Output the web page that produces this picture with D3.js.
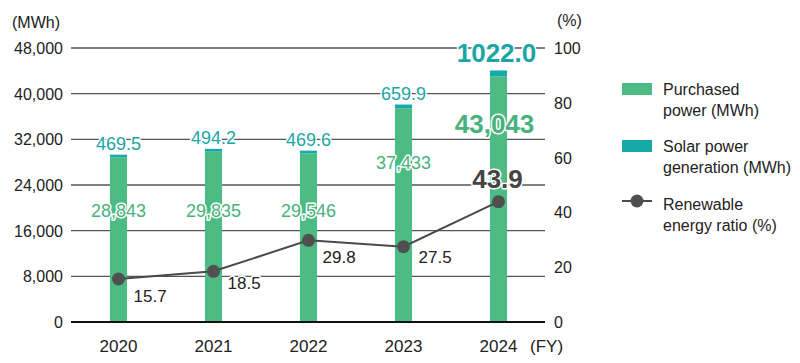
<!DOCTYPE html>
<html><head><meta charset="utf-8">
<script src="https://cdn.jsdelivr.net/npm/d3@7"></script>
<style>body{margin:0;background:#fff}svg{display:block;font-family:"Liberation Sans",Arial,Helvetica,sans-serif}</style>
</head><body><svg id="c" width="800" height="363"></svg>
<script>
const years = ["2020","2021","2022","2023","2024"];
const purchased = [28843, 29835, 29546, 37433, 43043];
const solar = [469.5, 494.2, 469.6, 659.9, 1022.0];
const ratio = [15.7, 18.5, 29.8, 27.5, 43.9];
const leftTicks = [0, 8000, 16000, 24000, 32000, 40000, 48000];
const rightTicks = [0, 20, 40, 60, 80, 100];
const legendItems = [["Purchased","power (MWh)"],["Solar power","generation (MWh)"],["Renewable","energy ratio (%)"]];

const GREEN = "#4dbb84", TEAL = "#17a9a8", GREEN_T = "#48b27c", TEAL_T = "#1ba5a5", DARK = "#4a4a4a";
const svg = d3.select("#c");
const x = d3.scaleBand().domain(years).range([71, 546]).paddingInner(0.82).paddingOuter(0.41);
const yL = d3.scaleLinear().domain([0, 48000]).range([322, 48]);
const yR = d3.scaleLinear().domain([0, 100]).range([322, 48]);
const cx = d => x(d) + x.bandwidth() / 2;

// gridlines
svg.append("g").selectAll("line").data(leftTicks.slice(1)).join("line")
  .attr("x1", 71).attr("x2", 545).attr("y1", d => yL(d)).attr("y2", d => yL(d))
  .attr("stroke", "#555").attr("stroke-width", 1.3);

// left axis labels
svg.append("g").selectAll("text").data(leftTicks).join("text")
  .attr("x", 63).attr("y", d => yL(d) + 6).attr("text-anchor", "end")
  .attr("font-size", 16).attr("fill", "#222").text(d => d3.format(",")(d));
svg.append("text").attr("x", 12).attr("y", 28).attr("font-size", 16).attr("fill", "#222").text("(MWh)");
// right axis labels
svg.append("g").selectAll("text").data(rightTicks).join("text")
  .attr("x", 554).attr("y", d => yR(d) + 6)
  .attr("font-size", 16).attr("fill", "#222").text(d => d);
svg.append("text").attr("x", 557).attr("y", 26).attr("font-size", 16).attr("fill", "#222").text("(%)");

// bars
svg.append("g").selectAll("rect").data(years).join("rect")
  .attr("x", d => x(d)).attr("width", x.bandwidth())
  .attr("y", (d, i) => yL(purchased[i])).attr("height", (d, i) => yL(0) - yL(purchased[i]))
  .attr("fill", GREEN);
svg.append("g").selectAll("rect").data(years).join("rect")
  .attr("x", d => x(d)).attr("width", x.bandwidth())
  .attr("y", (d, i) => yL(purchased[i] + solar[i])).attr("height", (d, i) => yL(purchased[i]) - yL(purchased[i] + solar[i]))
  .attr("fill", TEAL);

// baseline
svg.append("line").attr("x1", 71).attr("x2", 545).attr("y1", 322).attr("y2", 322)
  .attr("stroke", "#111").attr("stroke-width", 2);

// x labels
svg.append("g").selectAll("text").data(years).join("text")
  .attr("x", d => cx(d)).attr("y", 352).attr("text-anchor", "middle")
  .attr("font-size", 17).attr("fill", "#222").text(d => d);
svg.append("text").attr("x", 530).attr("y", 352).attr("font-size", 17).attr("fill", "#222").text("(FY)");

function halo(sel) { return sel.attr("stroke", "#fff").attr("stroke-width", 3).attr("paint-order", "stroke").attr("stroke-linejoin", "round"); }

// purchased labels (value position inside the bar)
const pBase = [217, 217, 217, 169, 133];
svg.append("g").selectAll("text").data(years).join("text")
  .attr("x", d => cx(d) - (d === "2024" ? 4 : 0)).attr("y", (d, i) => pBase[i])
  .attr("text-anchor", "middle")
  .attr("font-size", (d, i) => i === 4 ? 26 : 18).attr("font-weight", (d, i) => i === 4 ? "bold" : "normal")
  .attr("fill", GREEN_T).text((d, i) => d3.format(",")(purchased[i])).call(halo);

// solar labels
svg.append("g").selectAll("text").data(years).join("text")
  .attr("x", d => cx(d) - (d === "2024" ? 2 : 0))
  .attr("y", (d, i) => yL(purchased[i] + solar[i]) - (i === 4 ? 8 : 5))
  .attr("text-anchor", "middle")
  .attr("font-size", (d, i) => i === 4 ? 26 : 18).attr("font-weight", (d, i) => i === 4 ? "bold" : "normal")
  .attr("fill", TEAL_T).text((d, i) => d3.format(".1f")(solar[i])).call(halo);

// ratio line
const line = d3.line().x((d, i) => cx(years[i])).y(d => yR(d));
svg.append("path").datum(ratio).attr("d", line).attr("fill", "none").attr("stroke", DARK).attr("stroke-width", 2);
svg.append("g").selectAll("circle").data(ratio).join("circle")
  .attr("cx", (d, i) => cx(years[i])).attr("cy", d => yR(d)).attr("r", 6.5).attr("fill", "#505050");

const rOff = [[15, 23], [14, 18], [14, 23], [15, 16]];
svg.append("g").selectAll("text").data(ratio).join("text")
  .attr("x", (d, i) => i === 4 ? cx(years[i]) - 1 : cx(years[i]) + rOff[i][0])
  .attr("y", (d, i) => i === 4 ? yR(d) - 14 : yR(d) + rOff[i][1])
  .attr("text-anchor", (d, i) => i === 4 ? "middle" : "start")
  .attr("font-size", (d, i) => i === 4 ? 26 : 17).attr("font-weight", (d, i) => i === 4 ? "bold" : "normal")
  .attr("fill", (d, i) => i === 4 ? "#444" : "#222").text(d => d3.format(".1f")(d)).call(halo);

// legend
const lg = svg.append("g");
const legY = [95, 152, 210];
lg.append("rect").attr("x", 622).attr("y", 83).attr("width", 30).attr("height", 12).attr("fill", GREEN);
lg.append("rect").attr("x", 622).attr("y", 140).attr("width", 30).attr("height", 12).attr("fill", TEAL);
lg.append("line").attr("x1", 622).attr("x2", 652).attr("y1", 201).attr("y2", 201).attr("stroke", DARK).attr("stroke-width", 2);
lg.append("circle").attr("cx", 637).attr("cy", 201).attr("r", 6.5).attr("fill", "#505050");
legendItems.forEach((item, k) => {
  const t = lg.append("text").attr("x", 663).attr("y", legY[k]).attr("font-size", 16).attr("fill", "#222");
  item.forEach((s, j) => t.append("tspan").attr("x", 663).attr("dy", j ? 21 : 0).text(s));
});
</script></body></html>
